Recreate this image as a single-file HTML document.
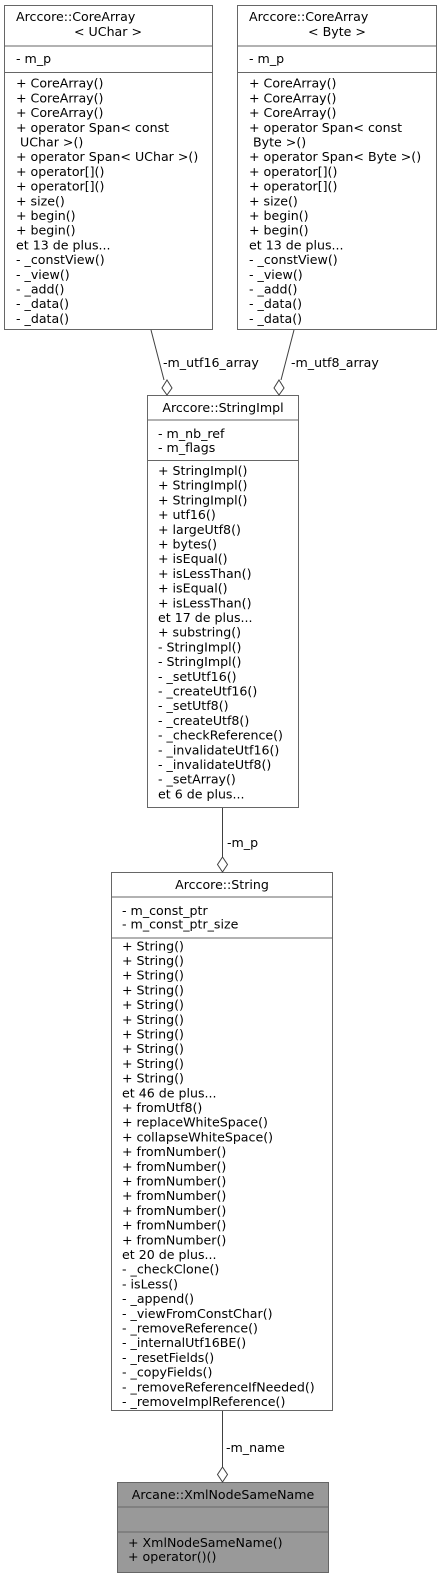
<!DOCTYPE html>
<html><head><meta charset="utf-8"><style>
html,body{margin:0;padding:0;background:#fff;}
svg{display:block;}
text{font-family:"DejaVu Sans","Liberation Sans",sans-serif;font-size:12.6px;fill:#000;}
</style></head><body>
<svg width="442" height="1579" viewBox="0 0 442 1579" xmlns="http://www.w3.org/2000/svg">
<g fill="#fff" stroke="#666" stroke-width="1">
<rect x="4.5" y="5.5" width="208" height="324"/>
<line x1="4.5" y1="46" x2="212.5" y2="46"/><line x1="4.5" y1="72.5" x2="212.5" y2="72.5"/>
<rect x="237.5" y="5.5" width="199" height="324"/>
<line x1="237.5" y1="46" x2="436.5" y2="46"/><line x1="237.5" y1="72.5" x2="436.5" y2="72.5"/>
<rect x="147.5" y="395.5" width="151" height="412"/>
<line x1="147.5" y1="420" x2="298.5" y2="420"/><line x1="147.5" y1="460.5" x2="298.5" y2="460.5"/>
<rect x="111.5" y="872.5" width="221" height="538"/>
<line x1="111.5" y1="897" x2="332.5" y2="897"/><line x1="111.5" y1="938" x2="332.5" y2="938"/>
<rect x="117.5" y="1482.5" width="211" height="90" fill="#999"/>
<line x1="117.5" y1="1507" x2="328.5" y2="1507"/><line x1="117.5" y1="1532" x2="328.5" y2="1532"/>
</g>
<g stroke="#404040" stroke-width="1" fill="#fff">
<line x1="151" y1="330" x2="164" y2="380"/>
<polygon points="167,380 172,388 167,395 162,388"/>
<line x1="294" y1="330" x2="281" y2="380"/>
<polygon points="279,380 284,388 279,395 274,388"/>
<line x1="222.5" y1="808" x2="222.5" y2="857"/>
<polygon points="222.5,857 227.5,864.5 222.5,872 217.5,864.5"/>
<line x1="222.5" y1="1411" x2="222.5" y2="1467"/>
<polygon points="222.5,1467 227.5,1474.5 222.5,1482 217.5,1474.5"/>
</g>
<text x="163" y="367">-m_utf16_array</text>
<text x="291" y="367">-m_utf8_array</text>
<text x="227" y="847">-m_p</text>
<text x="226" y="1452">-m_name</text>

<text x="16" y="21">Arccore::CoreArray</text>
<text x="108" y="36" text-anchor="middle">&lt; UChar &gt;</text>
<text x="16" y="63">- m_p</text>
<g transform="translate(16,0)">
<text y="87.7">+ CoreArray()</text><text y="102.4">+ CoreArray()</text><text y="117.1">+ CoreArray()</text>
<text y="131.8">+ operator Span&lt; const</text><text y="146.5" xml:space="preserve"> UChar &gt;()</text>
<text y="161.2">+ operator Span&lt; UChar &gt;()</text><text y="175.9">+ operator[]()</text><text y="190.6">+ operator[]()</text>
<text y="205.3">+ size()</text><text y="220">+ begin()</text><text y="234.7">+ begin()</text>
<text y="249.4">et 13 de plus...</text><text y="264.1">- _constView()</text><text y="278.8">- _view()</text>
<text y="293.5">- _add()</text><text y="308.2">- _data()</text><text y="322.9">- _data()</text>
</g>

<text x="249" y="21">Arccore::CoreArray</text>
<text x="337" y="36" text-anchor="middle">&lt; Byte &gt;</text>
<text x="249" y="63">- m_p</text>
<g transform="translate(249,0)">
<text y="87.7">+ CoreArray()</text><text y="102.4">+ CoreArray()</text><text y="117.1">+ CoreArray()</text>
<text y="131.8">+ operator Span&lt; const</text><text y="146.5" xml:space="preserve"> Byte &gt;()</text>
<text y="161.2">+ operator Span&lt; Byte &gt;()</text><text y="175.9">+ operator[]()</text><text y="190.6">+ operator[]()</text>
<text y="205.3">+ size()</text><text y="220">+ begin()</text><text y="234.7">+ begin()</text>
<text y="249.4">et 13 de plus...</text><text y="264.1">- _constView()</text><text y="278.8">- _view()</text>
<text y="293.5">- _add()</text><text y="308.2">- _data()</text><text y="322.9">- _data()</text>
</g>

<text x="223" y="412" text-anchor="middle">Arccore::StringImpl</text>
<g transform="translate(158,0)">
<text y="438">- m_nb_ref</text><text y="452">- m_flags</text>
<text y="475">+ StringImpl()</text><text y="489.7">+ StringImpl()</text><text y="504.4">+ StringImpl()</text>
<text y="519.1">+ utf16()</text><text y="533.8">+ largeUtf8()</text><text y="548.5">+ bytes()</text>
<text y="563.2">+ isEqual()</text><text y="577.9">+ isLessThan()</text><text y="592.6">+ isEqual()</text>
<text y="607.3">+ isLessThan()</text><text y="622">et 17 de plus...</text><text y="636.7">+ substring()</text>
<text y="651.4">- StringImpl()</text><text y="666.1">- StringImpl()</text><text y="680.8">- _setUtf16()</text>
<text y="695.5">- _createUtf16()</text><text y="710.2">- _setUtf8()</text><text y="724.9">- _createUtf8()</text>
<text y="739.6">- _checkReference()</text><text y="754.3">- _invalidateUtf16()</text><text y="769">- _invalidateUtf8()</text>
<text y="783.7">- _setArray()</text><text y="798.4">et 6 de plus...</text>
</g>

<text x="222" y="889" text-anchor="middle">Arccore::String</text>
<g transform="translate(122,0)">
<text y="915">- m_const_ptr</text><text y="928.5">- m_const_ptr_size</text>
<text y="950.3">+ String()</text><text y="965">+ String()</text><text y="979.7">+ String()</text>
<text y="994.4">+ String()</text><text y="1009.1">+ String()</text><text y="1023.8">+ String()</text>
<text y="1038.5">+ String()</text><text y="1053.2">+ String()</text><text y="1067.9">+ String()</text>
<text y="1082.6">+ String()</text><text y="1097.3">et 46 de plus...</text><text y="1112">+ fromUtf8()</text>
<text y="1126.7">+ replaceWhiteSpace()</text><text y="1141.4">+ collapseWhiteSpace()</text><text y="1156.1">+ fromNumber()</text>
<text y="1170.8">+ fromNumber()</text><text y="1185.5">+ fromNumber()</text><text y="1200.2">+ fromNumber()</text>
<text y="1214.9">+ fromNumber()</text><text y="1229.6">+ fromNumber()</text><text y="1244.3">+ fromNumber()</text>
<text y="1259">et 20 de plus...</text><text y="1273.7">- _checkClone()</text><text y="1288.4">- isLess()</text>
<text y="1303.1">- _append()</text><text y="1317.8">- _viewFromConstChar()</text><text y="1332.5">- _removeReference()</text>
<text y="1347.2">- _internalUtf16BE()</text><text y="1361.9">- _resetFields()</text><text y="1376.6">- _copyFields()</text>
<text y="1391.3">- _removeReferenceIfNeeded()</text><text y="1406">- _removeImplReference()</text>
</g>

<text x="223" y="1499" text-anchor="middle">Arcane::XmlNodeSameName</text>
<text x="128" y="1547">+ XmlNodeSameName()</text>
<text x="128" y="1561">+ operator()()</text>
</svg>
</body></html>
